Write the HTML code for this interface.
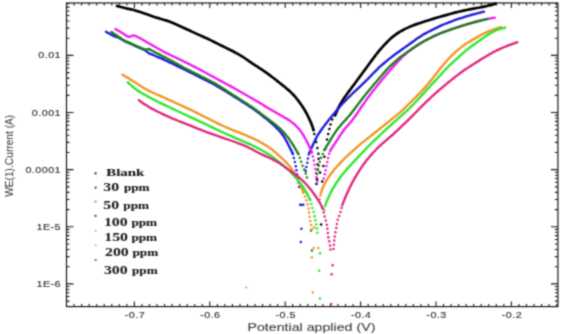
<!DOCTYPE html>
<html><head><meta charset="utf-8"><title>Tafel plot</title>
<style>html,body{margin:0;padding:0;background:#fff;}body{width:562px;height:334px;overflow:hidden;font-family:"Liberation Sans",sans-serif;}svg{display:block;}</style>
</head><body><svg width="562" height="334" viewBox="0 0 562 334"><defs><filter id="soft" x="0" y="0" width="562" height="334" filterUnits="userSpaceOnUse" color-interpolation-filters="sRGB"><feConvolveMatrix order="3" kernelMatrix="1 3 1 3 9 3 1 3 1" edgeMode="none"/></filter></defs><g filter="url(#soft)"><rect width="562" height="334" fill="#fff"/><rect x="66.5" y="3.0" width="491.4" height="303.6" fill="none" stroke="#1a1a1a" stroke-width="1.2"/><path d="M74.08 306.6v-2.5M74.08 3.0v2.5M81.62 306.6v-2.5M81.62 3.0v2.5M89.16 306.6v-2.5M89.16 3.0v2.5M96.70 306.6v-2.5M96.70 3.0v2.5M104.24 306.6v-2.5M104.24 3.0v2.5M111.78 306.6v-2.5M111.78 3.0v2.5M119.32 306.6v-2.5M119.32 3.0v2.5M126.86 306.6v-2.5M126.86 3.0v2.5M134.40 306.6v-5M134.40 3.0v5M141.94 306.6v-2.5M141.94 3.0v2.5M149.48 306.6v-2.5M149.48 3.0v2.5M157.02 306.6v-2.5M157.02 3.0v2.5M164.56 306.6v-2.5M164.56 3.0v2.5M172.10 306.6v-2.5M172.10 3.0v2.5M179.64 306.6v-2.5M179.64 3.0v2.5M187.18 306.6v-2.5M187.18 3.0v2.5M194.72 306.6v-2.5M194.72 3.0v2.5M202.26 306.6v-2.5M202.26 3.0v2.5M209.80 306.6v-5M209.80 3.0v5M217.34 306.6v-2.5M217.34 3.0v2.5M224.88 306.6v-2.5M224.88 3.0v2.5M232.42 306.6v-2.5M232.42 3.0v2.5M239.96 306.6v-2.5M239.96 3.0v2.5M247.50 306.6v-2.5M247.50 3.0v2.5M255.04 306.6v-2.5M255.04 3.0v2.5M262.58 306.6v-2.5M262.58 3.0v2.5M270.12 306.6v-2.5M270.12 3.0v2.5M277.66 306.6v-2.5M277.66 3.0v2.5M285.20 306.6v-5M285.20 3.0v5M292.74 306.6v-2.5M292.74 3.0v2.5M300.28 306.6v-2.5M300.28 3.0v2.5M307.82 306.6v-2.5M307.82 3.0v2.5M315.36 306.6v-2.5M315.36 3.0v2.5M322.90 306.6v-2.5M322.90 3.0v2.5M330.44 306.6v-2.5M330.44 3.0v2.5M337.98 306.6v-2.5M337.98 3.0v2.5M345.52 306.6v-2.5M345.52 3.0v2.5M353.06 306.6v-2.5M353.06 3.0v2.5M360.60 306.6v-5M360.60 3.0v5M368.14 306.6v-2.5M368.14 3.0v2.5M375.68 306.6v-2.5M375.68 3.0v2.5M383.22 306.6v-2.5M383.22 3.0v2.5M390.76 306.6v-2.5M390.76 3.0v2.5M398.30 306.6v-2.5M398.30 3.0v2.5M405.84 306.6v-2.5M405.84 3.0v2.5M413.38 306.6v-2.5M413.38 3.0v2.5M420.92 306.6v-2.5M420.92 3.0v2.5M428.46 306.6v-2.5M428.46 3.0v2.5M436.00 306.6v-5M436.00 3.0v5M443.54 306.6v-2.5M443.54 3.0v2.5M451.08 306.6v-2.5M451.08 3.0v2.5M458.62 306.6v-2.5M458.62 3.0v2.5M466.16 306.6v-2.5M466.16 3.0v2.5M473.70 306.6v-2.5M473.70 3.0v2.5M481.24 306.6v-2.5M481.24 3.0v2.5M488.78 306.6v-2.5M488.78 3.0v2.5M496.32 306.6v-2.5M496.32 3.0v2.5M503.86 306.6v-2.5M503.86 3.0v2.5M511.40 306.6v-5M511.40 3.0v5M518.94 306.6v-2.5M518.94 3.0v2.5M526.48 306.6v-2.5M526.48 3.0v2.5M534.02 306.6v-2.5M534.02 3.0v2.5M541.56 306.6v-2.5M541.56 3.0v2.5M549.10 306.6v-2.5M549.10 3.0v2.5M556.64 306.6v-2.5M556.64 3.0v2.5M66.5 301.10h3M557.9 301.10h-3M66.5 296.57h3M557.9 296.57h-3M66.5 292.75h3M557.9 292.75h-3M66.5 289.44h3M557.9 289.44h-3M66.5 286.51h3M557.9 286.51h-3M66.5 283.90h7M557.9 283.90h-7M66.5 266.70h3M557.9 266.70h-3M66.5 256.64h3M557.9 256.64h-3M66.5 249.51h3M557.9 249.51h-3M66.5 243.97h3M557.9 243.97h-3M66.5 239.45h3M557.9 239.45h-3M66.5 235.62h3M557.9 235.62h-3M66.5 232.31h3M557.9 232.31h-3M66.5 229.39h3M557.9 229.39h-3M66.5 226.78h7M557.9 226.78h-7M66.5 209.58h3M557.9 209.58h-3M66.5 199.52h3M557.9 199.52h-3M66.5 192.38h3M557.9 192.38h-3M66.5 186.85h3M557.9 186.85h-3M66.5 182.32h3M557.9 182.32h-3M66.5 178.50h3M557.9 178.50h-3M66.5 175.19h3M557.9 175.19h-3M66.5 172.26h3M557.9 172.26h-3M66.5 169.65h7M557.9 169.65h-7M66.5 152.45h3M557.9 152.45h-3M66.5 142.39h3M557.9 142.39h-3M66.5 135.26h3M557.9 135.26h-3M66.5 129.72h3M557.9 129.72h-3M66.5 125.20h3M557.9 125.20h-3M66.5 121.37h3M557.9 121.37h-3M66.5 118.06h3M557.9 118.06h-3M66.5 115.14h3M557.9 115.14h-3M66.5 112.53h7M557.9 112.53h-7M66.5 95.33h3M557.9 95.33h-3M66.5 85.27h3M557.9 85.27h-3M66.5 78.13h3M557.9 78.13h-3M66.5 72.60h3M557.9 72.60h-3M66.5 68.07h3M557.9 68.07h-3M66.5 64.25h3M557.9 64.25h-3M66.5 60.94h3M557.9 60.94h-3M66.5 58.01h3M557.9 58.01h-3M66.5 55.40h7M557.9 55.40h-7M66.5 38.20h3M557.9 38.20h-3M66.5 28.14h3M557.9 28.14h-3M66.5 21.01h3M557.9 21.01h-3M66.5 15.47h3M557.9 15.47h-3M66.5 10.95h3M557.9 10.95h-3M66.5 7.12h3M557.9 7.12h-3M66.5 3.81h3M557.9 3.81h-3" stroke="#1a1a1a" stroke-width="1.1" fill="none"/><path d="M117.00 6.00C117.48 6.13 118.94 6.52 119.91 6.78C120.88 7.03 121.85 7.29 122.82 7.53C123.79 7.77 124.76 8.01 125.74 8.24C126.71 8.46 127.69 8.68 128.66 8.90C129.63 9.12 130.61 9.33 131.58 9.56C132.55 9.79 133.52 10.03 134.49 10.28C135.46 10.54 136.42 10.81 137.38 11.09C138.34 11.38 139.29 11.68 140.25 11.98C141.20 12.29 142.15 12.61 143.10 12.93C144.05 13.26 145.00 13.59 145.94 13.93C146.89 14.26 147.83 14.60 148.78 14.94C149.72 15.28 150.66 15.62 151.61 15.96C152.55 16.30 153.50 16.63 154.45 16.95C155.40 17.28 156.35 17.59 157.30 17.89C158.26 18.19 159.22 18.47 160.18 18.75C161.14 19.03 162.10 19.29 163.06 19.56C164.02 19.83 164.98 20.09 165.93 20.39C166.88 20.68 167.83 20.99 168.76 21.33C169.70 21.67 170.62 22.04 171.55 22.42C172.47 22.80 173.38 23.21 174.30 23.61C175.21 24.01 176.13 24.43 177.04 24.83C177.96 25.24 178.87 25.65 179.79 26.06C180.71 26.47 181.62 26.87 182.54 27.28C183.45 27.70 184.36 28.11 185.27 28.54C186.18 28.96 187.09 29.39 188.00 29.81C188.90 30.24 189.81 30.67 190.72 31.10C191.63 31.53 192.53 31.95 193.44 32.37C194.36 32.79 195.27 33.21 196.18 33.63C197.10 34.04 198.01 34.45 198.93 34.86C199.84 35.27 200.76 35.68 201.68 36.09C202.59 36.50 203.51 36.91 204.42 37.32C205.33 37.74 206.25 38.16 207.16 38.58C208.07 39.00 208.97 39.43 209.88 39.87C210.78 40.30 211.68 40.74 212.58 41.18C213.48 41.62 214.38 42.07 215.28 42.52C216.18 42.97 217.08 43.42 217.97 43.87C218.87 44.32 219.77 44.77 220.66 45.22C221.56 45.66 222.46 46.11 223.36 46.56C224.25 47.01 225.15 47.46 226.05 47.91C226.95 48.35 227.85 48.80 228.75 49.24C229.65 49.69 230.55 50.14 231.44 50.58C232.34 51.03 233.24 51.48 234.13 51.94C235.02 52.39 235.92 52.85 236.80 53.32C237.68 53.80 238.55 54.28 239.42 54.79C240.28 55.29 241.13 55.81 241.98 56.35C242.82 56.89 243.65 57.44 244.48 58.01C245.31 58.57 246.13 59.15 246.95 59.72C247.77 60.29 248.60 60.86 249.42 61.43C250.25 61.99 251.08 62.56 251.92 63.11C252.75 63.67 253.59 64.21 254.43 64.76C255.27 65.31 256.12 65.85 256.96 66.40C257.80 66.95 258.64 67.49 259.48 68.05C260.31 68.60 261.15 69.16 261.98 69.72C262.81 70.28 263.63 70.85 264.46 71.42C265.28 72.00 266.10 72.58 266.92 73.16C267.73 73.74 268.55 74.33 269.35 74.93C270.16 75.52 270.97 76.12 271.77 76.73C272.56 77.33 273.36 77.94 274.15 78.56C274.94 79.17 275.73 79.80 276.52 80.42C277.31 81.04 278.09 81.66 278.88 82.29C279.66 82.91 280.45 83.54 281.23 84.17C282.01 84.79 282.80 85.42 283.58 86.05C284.36 86.68 285.14 87.31 285.91 87.95C286.69 88.58 287.46 89.22 288.21 89.88C288.97 90.53 289.72 91.19 290.45 91.88C291.17 92.56 291.89 93.26 292.58 93.98C293.27 94.70 293.95 95.44 294.61 96.19C295.27 96.94 295.91 97.71 296.54 98.48C297.18 99.26 297.80 100.04 298.41 100.84C299.02 101.63 299.63 102.43 300.22 103.24C300.80 104.05 301.39 104.86 301.95 105.69C302.51 106.52 303.05 107.36 303.58 108.21C304.11 109.06 304.61 109.92 305.11 110.79C305.60 111.66 306.07 112.54 306.54 113.43C307.01 114.32 307.47 115.21 307.92 116.10C308.36 117.00 308.81 117.90 309.23 118.81C309.66 119.71 310.08 120.62 310.47 121.54C310.86 122.46 311.24 123.38 311.59 124.32C311.94 125.25 312.27 126.20 312.59 127.14C312.90 128.09 313.35 129.52 313.50 130.00" fill="none" stroke="#000" stroke-width="2.7" stroke-linejoin="round" stroke-linecap="round"/><circle cx="313.5" cy="130.0" r="1.25" fill="#000"/><circle cx="314.3" cy="134.1" r="1.25" fill="#000"/><circle cx="316.2" cy="142" r="1.25" fill="#000"/><circle cx="317.4" cy="148" r="1.25" fill="#000"/><circle cx="318.4" cy="153.7" r="1.25" fill="#000"/><circle cx="318.6" cy="158.7" r="1.25" fill="#000"/><circle cx="317.7" cy="164.5" r="1.25" fill="#000"/><circle cx="317.7" cy="169.5" r="1.25" fill="#000"/><circle cx="317" cy="179.2" r="1.25" fill="#000"/><circle cx="316.5" cy="184" r="1.25" fill="#000"/><circle cx="321.1" cy="224.6" r="1.25" fill="#000"/><circle cx="322.2" cy="181.4" r="1.25" fill="#000"/><circle cx="320" cy="172.5" r="1.25" fill="#000"/><circle cx="323.4" cy="165.9" r="1.25" fill="#000"/><circle cx="324.4" cy="156.7" r="1.25" fill="#000"/><circle cx="325.2" cy="149" r="1.25" fill="#000"/><circle cx="327" cy="139.6" r="1.25" fill="#000"/><circle cx="328.2" cy="134" r="1.25" fill="#000"/><circle cx="329.4" cy="129" r="1.25" fill="#000"/><circle cx="330.5" cy="124.4" r="1.25" fill="#000"/><circle cx="332.2" cy="119.5" r="1.25" fill="#000"/><path d="M335.00 115.40C335.20 114.94 335.80 113.56 336.21 112.65C336.61 111.74 337.02 110.82 337.44 109.92C337.86 109.01 338.28 108.10 338.73 107.21C339.17 106.32 339.63 105.43 340.11 104.56C340.60 103.69 341.10 102.82 341.62 101.97C342.13 101.12 342.67 100.28 343.22 99.44C343.77 98.61 344.34 97.78 344.91 96.96C345.48 96.14 346.07 95.33 346.65 94.52C347.24 93.71 347.83 92.91 348.42 92.10C349.02 91.29 349.61 90.49 350.21 89.68C350.80 88.88 351.39 88.07 351.99 87.26C352.58 86.46 353.17 85.65 353.76 84.84C354.36 84.04 354.95 83.23 355.54 82.42C356.13 81.62 356.73 80.81 357.32 80.01C357.92 79.20 358.51 78.40 359.11 77.59C359.70 76.79 360.30 75.98 360.89 75.18C361.49 74.37 362.08 73.57 362.68 72.76C363.27 71.96 363.87 71.15 364.46 70.34C365.05 69.54 365.64 68.73 366.23 67.92C366.82 67.11 367.41 66.30 368.00 65.49C368.60 64.69 369.19 63.88 369.78 63.07C370.37 62.26 370.96 61.46 371.56 60.65C372.15 59.85 372.75 59.04 373.35 58.24C373.95 57.44 374.55 56.64 375.16 55.85C375.77 55.05 376.38 54.26 377.00 53.48C377.62 52.69 378.25 51.91 378.88 51.14C379.51 50.36 380.16 49.60 380.81 48.84C381.46 48.08 382.11 47.32 382.78 46.58C383.45 45.83 384.12 45.09 384.81 44.37C385.49 43.64 386.19 42.92 386.89 42.21C387.59 41.50 388.30 40.80 389.03 40.11C389.75 39.42 390.48 38.74 391.23 38.09C391.98 37.43 392.74 36.79 393.52 36.17C394.30 35.55 395.10 34.96 395.91 34.39C396.73 33.82 397.56 33.27 398.40 32.74C399.25 32.21 400.10 31.70 400.97 31.20C401.84 30.70 402.71 30.22 403.59 29.75C404.48 29.29 405.37 28.83 406.27 28.40C407.16 27.96 408.07 27.54 408.98 27.13C409.89 26.72 410.81 26.33 411.74 25.96C412.66 25.58 413.60 25.23 414.54 24.88C415.47 24.54 416.42 24.21 417.36 23.89C418.31 23.56 419.26 23.25 420.21 22.94C421.16 22.62 422.11 22.32 423.07 22.01C424.02 21.70 424.97 21.39 425.92 21.09C426.88 20.78 427.83 20.47 428.78 20.17C429.74 19.87 430.69 19.57 431.65 19.27C432.61 18.98 433.56 18.69 434.52 18.40C435.48 18.11 436.44 17.83 437.40 17.55C438.36 17.27 439.32 16.99 440.29 16.72C441.25 16.44 442.21 16.17 443.18 15.90C444.14 15.63 445.10 15.35 446.07 15.08C447.03 14.81 447.99 14.54 448.96 14.27C449.92 14.00 450.88 13.73 451.85 13.46C452.81 13.20 453.78 12.93 454.75 12.68C455.72 12.43 456.68 12.18 457.66 11.94C458.63 11.71 459.60 11.48 460.58 11.26C461.55 11.04 462.53 10.83 463.51 10.62C464.49 10.42 465.47 10.22 466.45 10.02C467.43 9.82 468.41 9.62 469.40 9.43C470.38 9.23 471.36 9.04 472.34 8.85C473.33 8.66 474.31 8.48 475.29 8.29C476.28 8.11 477.26 7.93 478.25 7.75C479.23 7.57 480.22 7.39 481.20 7.21C482.18 7.03 483.17 6.85 484.15 6.65C485.13 6.45 486.11 6.25 487.08 6.03C488.05 5.81 489.02 5.58 489.98 5.32C490.95 5.06 491.90 4.78 492.86 4.50C493.81 4.21 495.23 3.75 495.70 3.60" fill="none" stroke="#000" stroke-width="2.7" stroke-linejoin="round" stroke-linecap="round"/><path d="M106.00 31.70C106.43 31.95 107.73 32.71 108.60 33.22C109.47 33.72 110.32 34.26 111.20 34.74C112.08 35.22 112.95 35.70 113.88 36.08C114.80 36.46 115.81 36.64 116.74 37.00C117.68 37.36 118.58 37.78 119.47 38.23C120.36 38.69 121.21 39.24 122.09 39.72C122.97 40.20 123.85 40.69 124.75 41.14C125.64 41.58 126.57 41.97 127.49 42.38C128.40 42.80 129.31 43.21 130.23 43.63C131.14 44.04 132.06 44.46 132.97 44.87C133.88 45.29 134.80 45.70 135.71 46.11C136.63 46.53 137.54 46.94 138.46 47.35C139.38 47.76 140.29 48.17 141.21 48.58C142.12 48.99 143.07 49.35 143.96 49.81C144.84 50.27 145.69 50.78 146.51 51.34C147.34 51.90 148.03 52.67 148.89 53.17C149.75 53.67 150.73 53.96 151.66 54.36C152.58 54.75 153.50 55.15 154.42 55.54C155.35 55.94 156.27 56.34 157.19 56.73C158.11 57.13 159.04 57.52 159.96 57.92C160.88 58.32 161.79 58.73 162.70 59.15C163.62 59.57 164.52 60.01 165.43 60.44C166.33 60.87 167.24 61.30 168.15 61.72C169.06 62.15 169.96 62.58 170.87 63.01C171.78 63.44 172.69 63.87 173.59 64.30C174.50 64.73 175.41 65.16 176.31 65.59C177.22 66.02 178.12 66.45 179.03 66.89C179.93 67.32 180.84 67.76 181.74 68.20C182.64 68.64 183.54 69.09 184.44 69.53C185.34 69.98 186.24 70.42 187.14 70.87C188.03 71.32 188.93 71.77 189.83 72.22C190.73 72.66 191.62 73.11 192.52 73.56C193.42 74.01 194.32 74.46 195.22 74.91C196.11 75.36 197.01 75.81 197.91 76.25C198.81 76.70 199.70 77.15 200.60 77.60C201.50 78.05 202.40 78.50 203.29 78.95C204.19 79.40 205.09 79.85 205.99 80.30C206.88 80.75 207.78 81.19 208.68 81.65C209.57 82.10 210.47 82.56 211.36 83.02C212.25 83.48 213.14 83.95 214.02 84.42C214.90 84.90 215.78 85.38 216.65 85.88C217.52 86.37 218.39 86.88 219.25 87.39C220.11 87.90 220.97 88.42 221.83 88.94C222.68 89.46 223.54 89.99 224.39 90.52C225.24 91.05 226.10 91.58 226.95 92.11C227.80 92.64 228.65 93.17 229.50 93.71C230.35 94.24 231.20 94.77 232.05 95.31C232.90 95.84 233.75 96.38 234.60 96.92C235.45 97.45 236.29 97.99 237.14 98.52C237.99 99.06 238.84 99.60 239.69 100.13C240.53 100.67 241.38 101.21 242.23 101.75C243.08 102.29 243.92 102.82 244.77 103.37C245.61 103.91 246.46 104.45 247.30 105.00C248.14 105.55 248.97 106.10 249.81 106.66C250.64 107.22 251.47 107.79 252.29 108.36C253.11 108.93 253.93 109.51 254.75 110.10C255.56 110.68 256.37 111.27 257.18 111.86C257.99 112.46 258.80 113.05 259.60 113.65C260.41 114.25 261.21 114.85 262.01 115.46C262.80 116.07 263.60 116.69 264.38 117.31C265.17 117.93 265.95 118.57 266.72 119.20C267.50 119.84 268.27 120.48 269.03 121.13C269.79 121.78 270.55 122.44 271.31 123.10C272.06 123.76 272.82 124.42 273.56 125.09C274.30 125.77 275.04 126.44 275.77 127.14C276.49 127.83 277.21 128.53 277.90 129.25C278.59 129.97 279.28 130.70 279.93 131.45C280.58 132.20 281.22 132.97 281.82 133.76C282.42 134.55 283.00 135.36 283.55 136.19C284.10 137.02 284.62 137.87 285.12 138.74C285.63 139.60 286.10 140.48 286.58 141.36C287.05 142.24 287.51 143.13 287.97 144.02C288.43 144.92 288.87 145.81 289.32 146.71C289.77 147.61 290.22 148.51 290.67 149.41C291.12 150.30 291.64 151.35 292.01 152.10C292.38 152.85 292.75 153.60 292.90 153.90" fill="none" stroke="#1c1ce0" stroke-width="2.35" stroke-linejoin="round" stroke-linecap="round"/><circle cx="292.9" cy="153.9" r="1.25" fill="#1c1ce0"/><circle cx="293.9" cy="158.0" r="1.25" fill="#1c1ce0"/><circle cx="294.9" cy="162.0" r="1.25" fill="#1c1ce0"/><circle cx="295.8" cy="166.2" r="1.25" fill="#1c1ce0"/><circle cx="296.4" cy="170.3" r="1.25" fill="#1c1ce0"/><circle cx="297.0" cy="174.5" r="1.25" fill="#1c1ce0"/><circle cx="297.8" cy="178.6" r="1.25" fill="#1c1ce0"/><circle cx="298.6" cy="182.7" r="1.25" fill="#1c1ce0"/><circle cx="299.2" cy="186.9" r="1.25" fill="#1c1ce0"/><circle cx="301.4" cy="228.7" r="1.25" fill="#1c1ce0"/><circle cx="300.8" cy="242.1" r="1.25" fill="#1c1ce0"/><path d="M299 204.8h5.4" stroke="#1c1ce0" stroke-width="2.2"/><circle cx="305.7" cy="171.0" r="1.25" fill="#1c1ce0"/><circle cx="306.4" cy="166.9" r="1.25" fill="#1c1ce0"/><circle cx="307.3" cy="162.7" r="1.25" fill="#1c1ce0"/><circle cx="307.9" cy="158.6" r="1.25" fill="#1c1ce0"/><path d="M308.70 154.50C308.90 154.04 309.48 152.66 309.88 151.74C310.28 150.82 310.67 149.90 311.07 148.98C311.48 148.06 311.88 147.15 312.29 146.23C312.70 145.32 313.11 144.41 313.53 143.50C313.95 142.59 314.37 141.68 314.81 140.78C315.25 139.88 315.69 138.99 316.15 138.10C316.62 137.22 317.09 136.34 317.60 135.48C318.10 134.62 318.62 133.77 319.16 132.94C319.70 132.10 320.27 131.28 320.84 130.46C321.41 129.64 322.01 128.84 322.60 128.03C323.19 127.22 323.79 126.42 324.39 125.62C325.00 124.83 325.61 124.03 326.22 123.24C326.83 122.45 327.45 121.66 328.07 120.88C328.70 120.09 329.33 119.32 329.96 118.54C330.60 117.76 331.23 116.99 331.87 116.22C332.51 115.45 333.16 114.69 333.80 113.92C334.44 113.15 335.09 112.38 335.73 111.61C336.37 110.85 337.02 110.08 337.66 109.32C338.31 108.55 338.96 107.79 339.61 107.03C340.27 106.27 340.92 105.51 341.59 104.77C342.25 104.02 342.92 103.28 343.61 102.54C344.29 101.81 344.97 101.08 345.67 100.36C346.36 99.64 347.07 98.93 347.77 98.22C348.48 97.51 349.19 96.81 349.91 96.11C350.62 95.41 351.35 94.71 352.07 94.02C352.79 93.33 353.52 92.64 354.25 91.95C354.98 91.27 355.71 90.58 356.44 89.90C357.17 89.21 357.90 88.53 358.63 87.84C359.36 87.16 360.09 86.47 360.82 85.78C361.55 85.10 362.28 84.41 363.00 83.72C363.72 83.02 364.45 82.33 365.16 81.63C365.88 80.93 366.59 80.22 367.29 79.51C367.99 78.80 368.69 78.08 369.39 77.36C370.08 76.64 370.77 75.91 371.46 75.19C372.16 74.47 372.85 73.74 373.54 73.03C374.24 72.31 374.94 71.59 375.65 70.89C376.36 70.18 377.07 69.48 377.80 68.79C378.52 68.09 379.25 67.41 379.99 66.73C380.72 66.05 381.47 65.38 382.21 64.72C382.96 64.05 383.72 63.40 384.48 62.75C385.24 62.10 386.01 61.45 386.78 60.82C387.55 60.18 388.33 59.55 389.11 58.93C389.90 58.30 390.69 57.69 391.48 57.08C392.27 56.47 393.07 55.86 393.87 55.26C394.68 54.66 395.48 54.07 396.29 53.48C397.10 52.90 397.92 52.32 398.74 51.74C399.55 51.15 400.37 50.58 401.19 50.00C402.01 49.43 402.83 48.85 403.65 48.27C404.47 47.70 405.29 47.12 406.11 46.55C406.92 45.97 407.74 45.39 408.56 44.81C409.37 44.22 410.18 43.64 410.99 43.05C411.80 42.46 412.61 41.86 413.41 41.27C414.22 40.68 415.02 40.08 415.83 39.50C416.64 38.91 417.46 38.33 418.28 37.77C419.11 37.21 419.94 36.66 420.79 36.13C421.63 35.60 422.49 35.09 423.36 34.60C424.22 34.10 425.10 33.62 425.98 33.14C426.86 32.67 427.74 32.20 428.63 31.74C429.52 31.27 430.41 30.81 431.30 30.35C432.19 29.89 433.08 29.43 433.97 28.98C434.86 28.53 435.75 28.07 436.65 27.63C437.55 27.20 438.45 26.76 439.36 26.35C440.27 25.93 441.18 25.52 442.10 25.13C443.02 24.73 443.95 24.35 444.88 23.98C445.80 23.60 446.74 23.24 447.67 22.87C448.60 22.51 449.54 22.15 450.47 21.80C451.41 21.44 452.35 21.09 453.29 20.74C454.22 20.39 455.16 20.05 456.11 19.71C457.05 19.38 458.00 19.05 458.95 18.74C459.90 18.42 460.85 18.11 461.80 17.81C462.76 17.50 463.71 17.21 464.67 16.91C465.63 16.62 466.59 16.33 467.55 16.04C468.51 15.76 469.47 15.47 470.43 15.19C471.39 14.91 472.35 14.64 473.32 14.37C474.28 14.10 475.25 13.84 476.22 13.59C477.18 13.33 478.16 13.09 479.13 12.85C480.10 12.61 481.24 12.35 482.05 12.15C482.86 11.96 483.67 11.78 484.00 11.70" fill="none" stroke="#1c1ce0" stroke-width="2.35" stroke-linejoin="round" stroke-linecap="round"/><path d="M115.30 29.00C115.73 29.25 117.04 29.99 117.91 30.49C118.78 30.99 119.66 31.48 120.52 31.98C121.38 32.49 122.24 33.01 123.09 33.53C123.95 34.06 124.79 34.60 125.64 35.13C126.49 35.66 127.30 36.51 128.19 36.72C129.08 36.93 130.03 36.59 130.97 36.38C131.91 36.16 132.89 35.41 133.82 35.43C134.75 35.44 135.63 36.07 136.53 36.47C137.43 36.86 138.33 37.34 139.22 37.81C140.11 38.28 140.97 38.78 141.85 39.27C142.72 39.76 143.59 40.26 144.46 40.75C145.33 41.25 146.20 41.74 147.08 42.23C147.95 42.73 148.82 43.22 149.69 43.72C150.56 44.21 151.44 44.70 152.31 45.20C153.18 45.69 154.05 46.19 154.92 46.69C155.79 47.19 156.65 47.69 157.52 48.19C158.39 48.69 159.26 49.19 160.13 49.69C160.99 50.19 161.86 50.69 162.74 51.17C163.61 51.66 164.49 52.15 165.38 52.60C166.27 53.05 167.19 53.46 168.09 53.90C169.00 54.33 169.90 54.76 170.80 55.19C171.71 55.62 172.61 56.05 173.52 56.48C174.43 56.90 175.33 57.33 176.24 57.76C177.14 58.19 178.05 58.62 178.95 59.05C179.85 59.49 180.75 59.92 181.65 60.36C182.55 60.80 183.45 61.25 184.35 61.69C185.25 62.13 186.15 62.58 187.04 63.03C187.94 63.47 188.84 63.92 189.73 64.37C190.63 64.82 191.52 65.27 192.42 65.72C193.31 66.17 194.21 66.62 195.10 67.08C195.99 67.54 196.88 68.00 197.76 68.46C198.65 68.93 199.54 69.40 200.42 69.87C201.30 70.34 202.18 70.82 203.06 71.30C203.94 71.78 204.82 72.26 205.70 72.74C206.58 73.22 207.46 73.70 208.34 74.19C209.22 74.67 210.09 75.15 210.97 75.63C211.85 76.11 212.73 76.59 213.61 77.07C214.49 77.55 215.37 78.03 216.25 78.51C217.13 78.99 218.01 79.47 218.89 79.94C219.77 80.42 220.66 80.89 221.54 81.37C222.42 81.84 223.30 82.32 224.19 82.79C225.07 83.26 225.95 83.74 226.83 84.21C227.72 84.69 228.60 85.16 229.48 85.64C230.36 86.12 231.24 86.59 232.12 87.08C233.00 87.56 233.88 88.04 234.75 88.52C235.63 89.01 236.50 89.50 237.38 89.99C238.25 90.48 239.12 90.97 240.00 91.46C240.87 91.96 241.74 92.45 242.61 92.94C243.48 93.44 244.35 93.93 245.22 94.43C246.09 94.93 246.96 95.42 247.83 95.92C248.70 96.42 249.57 96.92 250.43 97.43C251.30 97.93 252.17 98.44 253.03 98.95C253.89 99.45 254.75 99.97 255.61 100.48C256.47 100.99 257.33 101.50 258.19 102.02C259.05 102.53 259.91 103.05 260.77 103.56C261.63 104.08 262.49 104.59 263.35 105.11C264.21 105.62 265.07 106.14 265.93 106.65C266.79 107.17 267.65 107.68 268.51 108.19C269.37 108.70 270.24 109.21 271.10 109.72C271.97 110.22 272.83 110.73 273.70 111.23C274.57 111.73 275.44 112.23 276.31 112.72C277.17 113.22 278.05 113.72 278.91 114.22C279.78 114.71 280.65 115.21 281.52 115.71C282.39 116.21 283.25 116.72 284.12 117.23C284.98 117.74 285.84 118.25 286.69 118.78C287.54 119.30 288.38 119.83 289.21 120.39C290.04 120.94 290.86 121.51 291.66 122.10C292.45 122.70 293.23 123.32 293.98 123.96C294.73 124.61 295.46 125.29 296.17 125.98C296.88 126.68 297.56 127.40 298.22 128.15C298.89 128.89 299.52 129.65 300.13 130.44C300.75 131.22 301.33 132.03 301.89 132.85C302.45 133.67 302.98 134.51 303.50 135.37C304.01 136.22 304.51 137.09 304.99 137.96C305.47 138.84 305.94 139.72 306.40 140.61C306.86 141.50 307.31 142.40 307.75 143.29C308.19 144.19 308.63 145.09 309.05 146.00C309.48 146.91 309.89 147.82 310.30 148.73C310.71 149.64 311.24 150.87 311.50 151.48C311.77 152.09 311.83 152.25 311.90 152.40" fill="none" stroke="#f01cf0" stroke-width="2.35" stroke-linejoin="round" stroke-linecap="round"/><circle cx="311.9" cy="152.4" r="1.25" fill="#f01cf0"/><circle cx="312.8" cy="156.5" r="1.25" fill="#f01cf0"/><circle cx="313.8" cy="160.6" r="1.25" fill="#f01cf0"/><circle cx="314.6" cy="164.7" r="1.25" fill="#f01cf0"/><circle cx="315.3" cy="168.9" r="1.25" fill="#f01cf0"/><circle cx="315.9" cy="173.0" r="1.25" fill="#f01cf0"/><circle cx="316.5" cy="177.2" r="1.25" fill="#f01cf0"/><circle cx="317.2" cy="181.3" r="1.25" fill="#f01cf0"/><circle cx="323.7" cy="178.4" r="1.25" fill="#f01cf0"/><circle cx="324.8" cy="174.3" r="1.25" fill="#f01cf0"/><circle cx="325.7" cy="170.2" r="1.25" fill="#f01cf0"/><circle cx="326.5" cy="166.1" r="1.25" fill="#f01cf0"/><circle cx="327.3" cy="162.0" r="1.25" fill="#f01cf0"/><circle cx="328.1" cy="157.9" r="1.25" fill="#f01cf0"/><circle cx="329.2" cy="153.8" r="1.25" fill="#f01cf0"/><path d="M330.00 151.00C330.27 150.58 331.07 149.30 331.61 148.46C332.15 147.61 332.69 146.77 333.24 145.93C333.79 145.09 334.34 144.26 334.90 143.42C335.45 142.58 336.01 141.75 336.57 140.92C337.12 140.08 337.67 139.24 338.22 138.40C338.77 137.57 339.32 136.72 339.87 135.89C340.42 135.05 340.97 134.21 341.54 133.39C342.10 132.56 342.68 131.75 343.27 130.94C343.87 130.14 344.48 129.35 345.11 128.58C345.74 127.80 346.39 127.04 347.04 126.28C347.70 125.52 348.36 124.78 349.02 124.02C349.67 123.26 350.33 122.51 350.97 121.74C351.61 120.97 352.24 120.19 352.85 119.40C353.47 118.61 354.06 117.81 354.64 116.99C355.23 116.18 355.79 115.35 356.36 114.52C356.92 113.70 357.48 112.86 358.03 112.03C358.59 111.19 359.14 110.35 359.70 109.52C360.26 108.69 360.82 107.85 361.38 107.02C361.94 106.19 362.51 105.36 363.08 104.54C363.65 103.71 364.23 102.89 364.81 102.07C365.39 101.25 365.98 100.44 366.56 99.63C367.15 98.81 367.75 98.01 368.35 97.20C368.94 96.39 369.54 95.59 370.14 94.79C370.75 93.98 371.35 93.18 371.95 92.38C372.56 91.58 373.17 90.78 373.78 89.99C374.39 89.19 375.01 88.40 375.63 87.61C376.25 86.82 376.87 86.04 377.50 85.26C378.13 84.47 378.77 83.70 379.41 82.92C380.04 82.15 380.68 81.37 381.32 80.60C381.96 79.83 382.61 79.06 383.25 78.29C383.90 77.52 384.54 76.75 385.19 75.98C385.84 75.22 386.48 74.45 387.14 73.69C387.79 72.92 388.44 72.16 389.10 71.41C389.76 70.65 390.42 69.89 391.08 69.14C391.75 68.39 392.41 67.63 393.08 66.88C393.74 66.13 394.41 65.38 395.08 64.63C395.75 63.88 396.41 63.14 397.09 62.39C397.76 61.65 398.44 60.91 399.13 60.19C399.82 59.46 400.51 58.74 401.22 58.04C401.94 57.33 402.66 56.65 403.40 55.97C404.14 55.30 404.90 54.65 405.67 54.01C406.43 53.36 407.21 52.74 408.00 52.11C408.79 51.49 409.58 50.88 410.38 50.28C411.18 49.68 411.99 49.08 412.80 48.49C413.62 47.91 414.44 47.33 415.26 46.76C416.09 46.19 416.92 45.63 417.76 45.09C418.60 44.54 419.45 44.01 420.30 43.49C421.16 42.97 422.03 42.46 422.90 41.96C423.76 41.46 424.64 40.98 425.52 40.50C426.40 40.02 427.29 39.54 428.17 39.07C429.06 38.61 429.95 38.14 430.85 37.69C431.74 37.23 432.64 36.79 433.54 36.35C434.44 35.92 435.35 35.49 436.27 35.08C437.18 34.67 438.10 34.27 439.03 33.89C439.95 33.50 440.88 33.13 441.82 32.77C442.75 32.41 443.69 32.06 444.64 31.71C445.58 31.37 446.52 31.03 447.47 30.70C448.41 30.36 449.36 30.03 450.31 29.70C451.26 29.37 452.20 29.04 453.15 28.71C454.10 28.39 455.05 28.07 456.01 27.75C456.96 27.43 457.91 27.12 458.87 26.81C459.82 26.51 460.78 26.21 461.74 25.91C462.70 25.61 463.66 25.32 464.62 25.02C465.58 24.73 466.54 24.44 467.50 24.16C468.46 23.87 469.42 23.58 470.39 23.30C471.35 23.02 472.31 22.74 473.28 22.47C474.25 22.20 475.21 21.94 476.18 21.68C477.15 21.42 478.12 21.18 479.10 20.93C480.07 20.69 481.05 20.46 482.02 20.23C483.00 20.00 483.98 19.78 484.96 19.57C485.94 19.35 486.92 19.14 487.90 18.94C488.89 18.74 489.87 18.54 490.86 18.35C491.84 18.16 493.16 17.91 493.81 17.79C494.47 17.66 494.64 17.63 494.80 17.60" fill="none" stroke="#f01cf0" stroke-width="2.35" stroke-linejoin="round" stroke-linecap="round"/><path d="M111.40 32.00C111.82 32.28 113.07 33.11 113.91 33.67C114.74 34.23 115.58 34.78 116.41 35.34C117.25 35.90 118.08 36.45 118.92 37.01C119.75 37.57 120.59 38.12 121.42 38.68C122.26 39.24 123.05 39.87 123.93 40.35C124.80 40.84 125.75 41.18 126.67 41.59C127.58 42.00 128.50 42.41 129.42 42.81C130.34 43.22 131.25 43.63 132.17 44.04C133.09 44.45 134.00 44.86 134.92 45.26C135.84 45.67 136.76 46.07 137.68 46.48C138.59 46.88 139.51 47.28 140.43 47.68C141.35 48.09 142.28 48.56 143.19 48.89C144.11 49.22 145.03 49.66 145.93 49.65C146.82 49.64 147.66 48.74 148.54 48.84C149.42 48.93 150.32 49.76 151.21 50.23C152.10 50.69 153.00 51.15 153.89 51.61C154.78 52.07 155.67 52.53 156.56 52.99C157.45 53.45 158.35 53.91 159.24 54.37C160.13 54.83 161.02 55.29 161.91 55.75C162.80 56.22 163.70 56.68 164.59 57.14C165.48 57.60 166.37 58.06 167.26 58.53C168.15 58.99 169.04 59.46 169.92 59.93C170.80 60.41 171.68 60.89 172.56 61.38C173.44 61.86 174.31 62.36 175.18 62.85C176.05 63.34 176.92 63.85 177.79 64.34C178.66 64.84 179.54 65.33 180.41 65.82C181.29 66.30 182.17 66.78 183.06 67.25C183.94 67.72 184.83 68.18 185.73 68.64C186.62 69.10 187.52 69.55 188.41 70.00C189.31 70.45 190.20 70.90 191.10 71.35C192.00 71.80 192.90 72.25 193.79 72.70C194.69 73.15 195.59 73.59 196.49 74.04C197.38 74.49 198.28 74.94 199.18 75.39C200.08 75.84 200.98 76.29 201.87 76.74C202.77 77.19 203.67 77.63 204.57 78.08C205.46 78.53 206.36 78.98 207.26 79.43C208.15 79.89 209.05 80.34 209.94 80.80C210.83 81.26 211.72 81.72 212.61 82.19C213.49 82.66 214.37 83.14 215.24 83.64C216.11 84.13 216.98 84.64 217.84 85.15C218.69 85.67 219.54 86.20 220.39 86.74C221.24 87.27 222.08 87.82 222.93 88.36C223.77 88.91 224.61 89.46 225.45 90.00C226.29 90.55 227.13 91.10 227.97 91.65C228.81 92.19 229.66 92.74 230.50 93.28C231.34 93.83 232.19 94.37 233.03 94.91C233.88 95.45 234.73 95.99 235.57 96.53C236.42 97.06 237.27 97.60 238.12 98.14C238.96 98.68 239.81 99.21 240.66 99.75C241.51 100.29 242.35 100.83 243.20 101.36C244.05 101.90 244.89 102.44 245.74 102.99C246.58 103.53 247.42 104.08 248.26 104.63C249.10 105.18 249.93 105.74 250.76 106.30C251.59 106.87 252.41 107.44 253.23 108.02C254.05 108.60 254.87 109.18 255.68 109.77C256.49 110.36 257.30 110.95 258.11 111.54C258.92 112.13 259.73 112.73 260.54 113.33C261.34 113.92 262.15 114.52 262.96 115.12C263.76 115.72 264.56 116.32 265.37 116.92C266.17 117.53 266.97 118.13 267.77 118.74C268.57 119.35 269.36 119.95 270.16 120.56C270.96 121.17 271.76 121.78 272.55 122.40C273.34 123.01 274.13 123.63 274.91 124.26C275.70 124.88 276.48 125.51 277.24 126.16C278.00 126.80 278.76 127.46 279.49 128.13C280.23 128.81 280.95 129.50 281.66 130.21C282.36 130.92 283.05 131.65 283.72 132.38C284.40 133.12 285.06 133.87 285.70 134.64C286.35 135.40 286.98 136.18 287.59 136.97C288.20 137.76 288.79 138.57 289.37 139.38C289.95 140.20 290.52 141.03 291.07 141.86C291.62 142.70 292.16 143.55 292.69 144.40C293.22 145.25 293.74 146.11 294.26 146.97C294.77 147.83 295.28 148.69 295.79 149.56C296.29 150.42 296.88 151.44 297.30 152.16C297.72 152.89 298.13 153.61 298.30 153.90" fill="none" stroke="#1e7e1e" stroke-width="2.35" stroke-linejoin="round" stroke-linecap="round"/><circle cx="298.3" cy="153.9" r="1.25" fill="#1e7e1e"/><circle cx="299.8" cy="157.8" r="1.25" fill="#1e7e1e"/><circle cx="301.2" cy="161.8" r="1.25" fill="#1e7e1e"/><circle cx="302.7" cy="165.7" r="1.25" fill="#1e7e1e"/><circle cx="304.2" cy="169.6" r="1.25" fill="#1e7e1e"/><circle cx="305.7" cy="173.6" r="1.25" fill="#1e7e1e"/><circle cx="306.9" cy="177.6" r="1.25" fill="#1e7e1e"/><circle cx="311" cy="230.5" r="1.25" fill="#1e7e1e"/><circle cx="311.9" cy="250.5" r="1.25" fill="#1e7e1e"/><circle cx="317.0" cy="174.0" r="1.25" fill="#1e7e1e"/><circle cx="318.0" cy="169.9" r="1.25" fill="#1e7e1e"/><circle cx="318.9" cy="165.8" r="1.25" fill="#1e7e1e"/><circle cx="319.7" cy="161.7" r="1.25" fill="#1e7e1e"/><circle cx="321.1" cy="157.8" r="1.25" fill="#1e7e1e"/><circle cx="322.8" cy="153.9" r="1.25" fill="#1e7e1e"/><circle cx="324.4" cy="150.0" r="1.25" fill="#1e7e1e"/><path d="M324.40 150.00C324.66 149.57 325.42 148.28 325.94 147.42C326.45 146.56 326.97 145.70 327.48 144.84C328.00 143.98 328.52 143.12 329.04 142.27C329.55 141.41 330.07 140.55 330.58 139.69C331.10 138.83 331.61 137.97 332.14 137.12C332.66 136.26 333.19 135.41 333.73 134.57C334.27 133.73 334.83 132.89 335.40 132.07C335.97 131.25 336.56 130.44 337.16 129.64C337.76 128.84 338.37 128.05 339.00 127.27C339.63 126.49 340.27 125.72 340.92 124.96C341.57 124.20 342.24 123.45 342.91 122.70C343.58 121.96 344.26 121.22 344.94 120.48C345.61 119.74 346.30 119.01 346.97 118.27C347.64 117.53 348.31 116.78 348.97 116.03C349.62 115.27 350.26 114.50 350.89 113.72C351.52 112.94 352.13 112.15 352.74 111.36C353.35 110.56 353.95 109.76 354.55 108.95C355.15 108.15 355.74 107.34 356.34 106.54C356.94 105.73 357.54 104.93 358.15 104.13C358.75 103.33 359.36 102.53 359.97 101.73C360.58 100.94 361.19 100.14 361.81 99.35C362.42 98.56 363.04 97.76 363.66 96.97C364.27 96.18 364.89 95.40 365.52 94.61C366.14 93.83 366.77 93.04 367.40 92.27C368.04 91.49 368.67 90.71 369.31 89.94C369.96 89.17 370.60 88.40 371.25 87.64C371.90 86.87 372.55 86.11 373.20 85.35C373.85 84.58 374.51 83.82 375.16 83.06C375.81 82.30 376.46 81.53 377.11 80.77C377.76 80.00 378.41 79.24 379.06 78.48C379.71 77.71 380.36 76.94 381.01 76.18C381.66 75.41 382.31 74.65 382.96 73.89C383.62 73.13 384.27 72.37 384.94 71.62C385.60 70.87 386.27 70.12 386.95 69.39C387.63 68.65 388.32 67.92 389.02 67.21C389.72 66.49 390.43 65.78 391.15 65.08C391.87 64.39 392.60 63.70 393.34 63.03C394.08 62.35 394.83 61.69 395.59 61.04C396.35 60.39 397.12 59.75 397.90 59.12C398.68 58.49 399.47 57.87 400.26 57.25C401.05 56.64 401.85 56.03 402.65 55.43C403.46 54.83 404.26 54.23 405.08 53.65C405.89 53.06 406.71 52.47 407.52 51.90C408.34 51.32 409.17 50.74 409.99 50.17C410.82 49.60 411.64 49.03 412.47 48.47C413.30 47.91 414.13 47.34 414.97 46.79C415.81 46.23 416.64 45.68 417.49 45.14C418.33 44.60 419.18 44.06 420.03 43.53C420.88 43.01 421.74 42.49 422.61 41.98C423.47 41.48 424.35 40.99 425.22 40.50C426.10 40.02 426.99 39.55 427.88 39.09C428.77 38.62 429.66 38.17 430.56 37.73C431.46 37.28 432.36 36.85 433.27 36.42C434.18 35.99 435.09 35.57 436.00 35.17C436.92 34.76 437.84 34.37 438.77 33.98C439.69 33.60 440.63 33.23 441.56 32.87C442.49 32.51 443.43 32.16 444.38 31.81C445.32 31.46 446.26 31.13 447.21 30.79C448.15 30.45 449.10 30.12 450.05 29.79C450.99 29.46 451.94 29.13 452.89 28.81C453.84 28.48 454.79 28.16 455.74 27.84C456.69 27.52 457.64 27.21 458.60 26.90C459.55 26.59 460.51 26.29 461.47 25.99C462.43 25.69 463.39 25.40 464.34 25.11C465.30 24.81 466.27 24.53 467.23 24.24C468.19 23.95 469.15 23.66 470.11 23.38C471.08 23.10 472.04 22.82 473.00 22.55C473.97 22.28 474.94 22.01 475.91 21.75C476.87 21.50 477.85 21.25 478.82 21.00C479.79 20.75 480.77 20.52 481.74 20.28C482.72 20.05 483.69 19.82 484.67 19.59C485.65 19.36 487.11 19.01 487.60 18.90" fill="none" stroke="#1e7e1e" stroke-width="2.35" stroke-linejoin="round" stroke-linecap="round"/><path d="M122.50 74.70C122.93 74.96 124.21 75.75 125.06 76.28C125.92 76.80 126.78 77.32 127.63 77.84C128.49 78.36 129.35 78.87 130.21 79.39C131.07 79.91 131.93 80.42 132.79 80.95C133.64 81.47 134.50 82.00 135.35 82.53C136.20 83.07 137.04 83.61 137.89 84.15C138.73 84.69 139.57 85.24 140.41 85.78C141.26 86.32 142.10 86.87 142.95 87.39C143.80 87.92 144.66 88.44 145.52 88.94C146.39 89.44 147.26 89.93 148.15 90.39C149.03 90.86 149.93 91.31 150.83 91.75C151.73 92.18 152.64 92.60 153.56 93.02C154.47 93.43 155.39 93.83 156.31 94.23C157.22 94.64 158.15 95.03 159.06 95.44C159.98 95.84 160.90 96.24 161.82 96.65C162.74 97.06 163.65 97.47 164.56 97.89C165.48 98.30 166.39 98.72 167.30 99.14C168.21 99.56 169.13 99.97 170.04 100.39C170.95 100.81 171.87 101.22 172.78 101.64C173.69 102.05 174.61 102.47 175.52 102.88C176.44 103.29 177.35 103.71 178.27 104.12C179.18 104.53 180.10 104.95 181.01 105.36C181.92 105.77 182.84 106.19 183.75 106.61C184.66 107.03 185.57 107.45 186.48 107.87C187.39 108.30 188.30 108.73 189.20 109.16C190.11 109.60 191.01 110.04 191.91 110.48C192.81 110.92 193.71 111.37 194.61 111.81C195.51 112.26 196.41 112.71 197.30 113.15C198.20 113.60 199.10 114.05 200.00 114.50C200.89 114.95 201.79 115.40 202.69 115.85C203.59 116.30 204.48 116.75 205.38 117.20C206.28 117.64 207.18 118.09 208.07 118.55C208.97 119.00 209.87 119.45 210.76 119.90C211.66 120.35 212.56 120.80 213.45 121.25C214.35 121.70 215.25 122.15 216.15 122.59C217.05 123.04 217.94 123.49 218.85 123.93C219.75 124.37 220.65 124.81 221.56 125.23C222.46 125.66 223.38 126.08 224.29 126.49C225.21 126.90 226.13 127.30 227.05 127.69C227.97 128.08 228.90 128.47 229.83 128.85C230.75 129.23 231.68 129.61 232.62 129.98C233.55 130.36 234.48 130.73 235.41 131.10C236.34 131.48 237.27 131.85 238.20 132.23C239.13 132.60 240.07 132.97 241.00 133.35C241.93 133.73 242.86 134.10 243.79 134.48C244.71 134.86 245.64 135.24 246.57 135.63C247.50 136.02 248.42 136.40 249.34 136.80C250.27 137.19 251.19 137.59 252.10 138.00C253.02 138.41 253.93 138.82 254.84 139.24C255.75 139.67 256.65 140.10 257.55 140.55C258.44 141.00 259.33 141.46 260.21 141.94C261.09 142.41 261.96 142.91 262.83 143.42C263.69 143.92 264.54 144.45 265.39 144.98C266.24 145.51 267.08 146.06 267.91 146.61C268.74 147.17 269.57 147.74 270.38 148.33C271.18 148.92 271.98 149.52 272.76 150.14C273.55 150.76 274.32 151.40 275.08 152.05C275.84 152.70 276.59 153.37 277.34 154.03C278.09 154.70 278.83 155.38 279.57 156.05C280.31 156.73 281.04 157.41 281.77 158.10C282.51 158.79 283.24 159.48 283.95 160.18C284.67 160.88 285.38 161.58 286.08 162.30C286.77 163.02 287.46 163.74 288.11 164.49C288.77 165.24 289.41 166.01 290.02 166.79C290.64 167.58 291.22 168.39 291.79 169.21C292.36 170.03 292.90 170.87 293.43 171.71C293.96 172.56 294.47 173.42 294.97 174.29C295.47 175.16 295.96 176.04 296.43 176.92C296.90 177.80 297.36 178.69 297.81 179.59C298.26 180.49 298.69 181.39 299.11 182.30C299.53 183.21 299.93 184.13 300.32 185.05C300.71 185.97 301.09 186.90 301.47 187.83C301.84 188.76 302.27 189.85 302.57 190.63C302.88 191.41 303.18 192.19 303.30 192.50" fill="none" stroke="#f49326" stroke-width="2.35" stroke-linejoin="round" stroke-linecap="round"/><circle cx="303.3" cy="192.5" r="1.25" fill="#f49326"/><circle cx="304.9" cy="196.4" r="1.25" fill="#f49326"/><circle cx="306.4" cy="200.3" r="1.25" fill="#f49326"/><circle cx="307.6" cy="204.3" r="1.25" fill="#f49326"/><circle cx="308.6" cy="208.4" r="1.25" fill="#f49326"/><circle cx="309.1" cy="212.6" r="1.25" fill="#f49326"/><circle cx="309.6" cy="216.7" r="1.25" fill="#f49326"/><circle cx="310.4" cy="220.9" r="1.25" fill="#f49326"/><circle cx="311.1" cy="225.0" r="1.25" fill="#f49326"/><circle cx="311.7" cy="229.2" r="1.25" fill="#f49326"/><circle cx="313.7" cy="248" r="1.25" fill="#f49326"/><circle cx="311.9" cy="257.5" r="1.25" fill="#f49326"/><circle cx="312.8" cy="292.6" r="1.25" fill="#f49326"/><circle cx="318.2" cy="248" r="1.25" fill="#f49326"/><circle cx="314" cy="227.5" r="1.25" fill="#f49326"/><circle cx="319.7" cy="199.5" r="1.25" fill="#f49326"/><circle cx="320.4" cy="195.4" r="1.25" fill="#f49326"/><path d="M320.70 193.40C320.87 192.93 321.35 191.51 321.70 190.57C322.04 189.64 322.40 188.70 322.78 187.78C323.16 186.86 323.57 185.95 324.00 185.05C324.43 184.15 324.89 183.27 325.37 182.39C325.86 181.52 326.37 180.66 326.89 179.81C327.42 178.96 327.97 178.12 328.53 177.30C329.09 176.47 329.67 175.65 330.26 174.84C330.85 174.03 331.45 173.24 332.06 172.44C332.68 171.65 333.30 170.87 333.94 170.10C334.57 169.32 335.22 168.56 335.87 167.80C336.52 167.04 337.19 166.28 337.86 165.54C338.53 164.80 339.20 164.06 339.89 163.33C340.57 162.60 341.27 161.87 341.97 161.16C342.67 160.44 343.37 159.73 344.08 159.02C344.80 158.32 345.51 157.62 346.23 156.92C346.96 156.23 347.68 155.54 348.42 154.85C349.15 154.17 349.88 153.49 350.62 152.81C351.36 152.13 352.11 151.46 352.85 150.79C353.60 150.12 354.35 149.45 355.10 148.79C355.85 148.13 356.60 147.47 357.36 146.81C358.12 146.16 358.88 145.51 359.65 144.86C360.42 144.22 361.19 143.58 361.97 142.95C362.75 142.31 363.53 141.69 364.31 141.06C365.10 140.44 365.88 139.82 366.67 139.20C367.46 138.57 368.24 137.96 369.03 137.33C369.82 136.71 370.60 136.09 371.39 135.47C372.18 134.85 372.96 134.22 373.75 133.60C374.53 132.97 375.31 132.35 376.10 131.72C376.88 131.10 377.66 130.47 378.45 129.84C379.23 129.22 380.01 128.59 380.79 127.96C381.58 127.34 382.36 126.71 383.14 126.08C383.93 125.46 384.71 124.83 385.49 124.21C386.27 123.58 387.06 122.95 387.84 122.33C388.62 121.70 389.40 121.07 390.19 120.44C390.97 119.81 391.75 119.19 392.53 118.56C393.31 117.93 394.09 117.30 394.87 116.66C395.64 116.03 396.42 115.40 397.19 114.76C397.96 114.11 398.73 113.47 399.48 112.81C400.24 112.16 400.99 111.50 401.74 110.83C402.48 110.16 403.21 109.47 403.94 108.79C404.67 108.10 405.39 107.40 406.11 106.71C406.83 106.01 407.54 105.30 408.26 104.60C408.97 103.90 409.68 103.19 410.39 102.48C411.11 101.78 411.82 101.07 412.53 100.36C413.24 99.66 413.95 98.95 414.66 98.24C415.36 97.53 416.07 96.82 416.78 96.11C417.49 95.40 418.19 94.68 418.89 93.97C419.59 93.25 420.29 92.53 420.98 91.80C421.67 91.08 422.35 90.35 423.03 89.61C423.71 88.87 424.38 88.13 425.05 87.38C425.71 86.63 426.37 85.88 427.03 85.12C427.68 84.36 428.34 83.60 428.98 82.83C429.62 82.06 430.26 81.29 430.89 80.51C431.52 79.73 432.15 78.95 432.77 78.16C433.38 77.37 434.00 76.58 434.61 75.78C435.22 74.99 435.82 74.19 436.44 73.40C437.05 72.60 437.66 71.81 438.27 71.02C438.89 70.23 439.51 69.44 440.13 68.65C440.75 67.87 441.38 67.08 442.01 66.31C442.65 65.53 443.29 64.76 443.93 63.99C444.58 63.23 445.23 62.47 445.90 61.72C446.56 60.97 447.23 60.22 447.91 59.49C448.59 58.75 449.28 58.02 449.97 57.31C450.67 56.59 451.38 55.87 452.09 55.17C452.81 54.47 453.53 53.78 454.27 53.10C455.00 52.43 455.75 51.76 456.50 51.10C457.26 50.44 458.02 49.80 458.80 49.17C459.57 48.54 460.36 47.92 461.16 47.31C461.95 46.71 462.76 46.11 463.58 45.53C464.39 44.95 465.22 44.39 466.05 43.83C466.89 43.28 467.73 42.74 468.58 42.21C469.42 41.67 470.28 41.15 471.14 40.63C472.00 40.12 472.86 39.61 473.73 39.11C474.59 38.60 475.46 38.10 476.34 37.61C477.21 37.12 478.09 36.63 478.97 36.16C479.85 35.68 480.73 35.21 481.62 34.74C482.51 34.28 483.40 33.82 484.30 33.38C485.19 32.93 486.09 32.49 487.00 32.07C487.91 31.65 488.82 31.25 489.74 30.86C490.66 30.48 491.59 30.11 492.53 29.76C493.47 29.42 494.41 29.09 495.36 28.78C496.31 28.46 497.27 28.17 498.22 27.87C499.18 27.57 500.62 27.15 501.10 27.00" fill="none" stroke="#f49326" stroke-width="2.35" stroke-linejoin="round" stroke-linecap="round"/><path d="M127.70 82.20C128.07 82.54 129.15 83.58 129.89 84.25C130.63 84.93 131.37 85.60 132.13 86.25C132.89 86.90 133.66 87.53 134.45 88.14C135.24 88.75 136.04 89.34 136.86 89.92C137.68 90.49 138.51 91.04 139.36 91.57C140.20 92.11 141.06 92.63 141.92 93.14C142.78 93.65 143.65 94.15 144.52 94.64C145.39 95.13 146.27 95.62 147.15 96.10C148.02 96.59 148.91 97.07 149.79 97.54C150.67 98.02 151.56 98.49 152.44 98.95C153.33 99.42 154.22 99.88 155.11 100.34C156.01 100.79 156.90 101.24 157.80 101.69C158.70 102.14 159.60 102.58 160.50 103.01C161.40 103.45 162.30 103.88 163.21 104.32C164.11 104.75 165.02 105.17 165.93 105.60C166.84 106.03 167.74 106.45 168.65 106.88C169.56 107.30 170.47 107.73 171.37 108.16C172.28 108.58 173.19 109.01 174.10 109.44C175.00 109.86 175.91 110.29 176.82 110.72C177.72 111.15 178.63 111.57 179.54 112.00C180.44 112.43 181.35 112.86 182.26 113.29C183.16 113.71 184.07 114.14 184.98 114.57C185.89 114.99 186.79 115.42 187.70 115.84C188.61 116.26 189.52 116.69 190.43 117.11C191.34 117.53 192.25 117.95 193.16 118.37C194.07 118.80 194.98 119.22 195.89 119.64C196.80 120.06 197.71 120.48 198.62 120.90C199.53 121.32 200.44 121.74 201.35 122.16C202.26 122.59 203.16 123.01 204.07 123.44C204.98 123.86 205.89 124.29 206.79 124.72C207.70 125.15 208.60 125.58 209.50 126.02C210.41 126.45 211.31 126.89 212.21 127.32C213.12 127.76 214.02 128.20 214.92 128.63C215.82 129.07 216.72 129.51 217.63 129.94C218.53 130.38 219.43 130.81 220.34 131.24C221.25 131.67 222.15 132.10 223.06 132.52C223.97 132.94 224.88 133.36 225.80 133.77C226.71 134.18 227.63 134.59 228.54 134.99C229.46 135.40 230.38 135.80 231.30 136.20C232.22 136.60 233.14 137.00 234.06 137.40C234.98 137.80 235.90 138.20 236.82 138.59C237.74 138.99 238.66 139.39 239.58 139.78C240.50 140.18 241.42 140.57 242.34 140.97C243.26 141.37 244.19 141.76 245.11 142.16C246.02 142.56 246.94 142.96 247.86 143.37C248.78 143.77 249.69 144.18 250.60 144.60C251.51 145.02 252.42 145.45 253.32 145.88C254.22 146.32 255.12 146.76 256.02 147.21C256.91 147.66 257.80 148.12 258.69 148.59C259.57 149.06 260.45 149.54 261.33 150.02C262.20 150.51 263.07 151.01 263.93 151.52C264.80 152.02 265.66 152.53 266.51 153.06C267.37 153.58 268.22 154.11 269.06 154.66C269.90 155.20 270.73 155.75 271.55 156.32C272.37 156.89 273.18 157.48 273.99 158.07C274.79 158.67 275.59 159.28 276.38 159.89C277.17 160.50 277.95 161.13 278.73 161.76C279.52 162.38 280.30 163.01 281.07 163.65C281.85 164.28 282.62 164.92 283.39 165.56C284.16 166.21 284.92 166.85 285.68 167.51C286.44 168.16 287.19 168.82 287.93 169.50C288.67 170.17 289.40 170.86 290.11 171.56C290.82 172.26 291.52 172.97 292.21 173.70C292.90 174.42 293.57 175.16 294.23 175.91C294.90 176.66 295.55 177.42 296.20 178.18C296.84 178.95 297.48 179.72 298.11 180.50C298.74 181.28 299.36 182.07 299.96 182.86C300.57 183.66 301.17 184.46 301.75 185.28C302.34 186.09 302.91 186.91 303.46 187.74C304.02 188.58 304.56 189.42 305.08 190.27C305.60 191.12 306.10 191.99 306.59 192.86C307.08 193.73 307.55 194.62 308.01 195.50C308.47 196.39 308.97 197.44 309.34 198.19C309.70 198.94 310.06 199.70 310.20 200.00" fill="none" stroke="#2ee62e" stroke-width="2.35" stroke-linejoin="round" stroke-linecap="round"/><circle cx="310.2" cy="200.0" r="1.25" fill="#2ee62e"/><circle cx="311.4" cy="204.0" r="1.25" fill="#2ee62e"/><circle cx="312.4" cy="208.1" r="1.25" fill="#2ee62e"/><circle cx="313.6" cy="212.1" r="1.25" fill="#2ee62e"/><circle cx="314.5" cy="216.2" r="1.25" fill="#2ee62e"/><circle cx="315.4" cy="220.3" r="1.25" fill="#2ee62e"/><circle cx="316.2" cy="224.4" r="1.25" fill="#2ee62e"/><circle cx="317.0" cy="228.6" r="1.25" fill="#2ee62e"/><circle cx="317.3" cy="232.8" r="1.25" fill="#2ee62e"/><circle cx="320" cy="253.2" r="1.25" fill="#2ee62e"/><circle cx="319.1" cy="270.7" r="1.25" fill="#2ee62e"/><circle cx="320" cy="298.5" r="1.25" fill="#2ee62e"/><circle cx="324.2" cy="210.0" r="1.25" fill="#2ee62e"/><circle cx="325.2" cy="205.9" r="1.25" fill="#2ee62e"/><path d="M325.70 204.00C325.89 203.54 326.46 202.15 326.85 201.23C327.24 200.30 327.63 199.38 328.04 198.47C328.44 197.55 328.85 196.64 329.28 195.73C329.70 194.83 330.14 193.93 330.59 193.04C331.04 192.14 331.51 191.26 331.98 190.38C332.46 189.50 332.95 188.63 333.45 187.76C333.95 186.89 334.46 186.03 334.98 185.18C335.51 184.33 336.04 183.48 336.58 182.64C337.13 181.80 337.68 180.97 338.25 180.14C338.81 179.32 339.39 178.50 339.98 177.69C340.57 176.88 341.17 176.08 341.78 175.29C342.39 174.50 343.02 173.72 343.65 172.95C344.29 172.17 344.93 171.41 345.59 170.65C346.24 169.89 346.90 169.14 347.57 168.39C348.23 167.64 348.91 166.90 349.58 166.16C350.26 165.43 350.94 164.69 351.62 163.96C352.30 163.22 352.99 162.49 353.67 161.77C354.36 161.04 355.05 160.31 355.74 159.58C356.43 158.85 357.11 158.13 357.80 157.40C358.49 156.67 359.18 155.94 359.87 155.21C360.55 154.49 361.24 153.76 361.93 153.03C362.61 152.30 363.30 151.57 363.99 150.84C364.67 150.11 365.36 149.38 366.05 148.65C366.74 147.93 367.43 147.20 368.13 146.48C368.83 145.77 369.53 145.05 370.23 144.34C370.94 143.63 371.65 142.93 372.37 142.23C373.09 141.53 373.81 140.84 374.54 140.15C375.26 139.46 375.99 138.77 376.72 138.08C377.45 137.40 378.18 136.72 378.91 136.03C379.65 135.35 380.39 134.67 381.12 134.00C381.86 133.32 382.60 132.65 383.35 131.97C384.09 131.30 384.83 130.63 385.58 129.96C386.32 129.29 387.06 128.62 387.81 127.95C388.55 127.28 389.30 126.61 390.04 125.94C390.79 125.27 391.53 124.60 392.27 123.92C393.01 123.25 393.75 122.58 394.49 121.90C395.24 121.23 395.98 120.55 396.72 119.88C397.46 119.21 398.20 118.53 398.94 117.86C399.68 117.18 400.42 116.51 401.17 115.84C401.91 115.17 402.65 114.50 403.39 113.82C404.14 113.15 404.88 112.48 405.62 111.81C406.37 111.14 407.11 110.47 407.84 109.79C408.58 109.11 409.31 108.43 410.03 107.73C410.76 107.04 411.47 106.34 412.18 105.64C412.89 104.93 413.59 104.21 414.28 103.49C414.97 102.77 415.66 102.04 416.34 101.31C417.02 100.57 417.70 99.83 418.38 99.10C419.05 98.36 419.73 97.62 420.40 96.88C421.08 96.14 421.75 95.39 422.42 94.65C423.09 93.91 423.76 93.17 424.44 92.42C425.11 91.68 425.78 90.93 426.45 90.19C427.12 89.45 427.79 88.70 428.46 87.96C429.14 87.22 429.81 86.48 430.49 85.75C431.17 85.01 431.85 84.28 432.54 83.55C433.23 82.82 433.92 82.10 434.61 81.37C435.30 80.65 435.99 79.93 436.68 79.20C437.37 78.47 438.05 77.74 438.73 77.00C439.40 76.27 440.07 75.52 440.74 74.78C441.41 74.03 442.07 73.28 442.73 72.53C443.40 71.79 444.07 71.04 444.75 70.31C445.43 69.58 446.11 68.85 446.81 68.13C447.51 67.42 448.21 66.71 448.93 66.01C449.64 65.31 450.36 64.61 451.09 63.93C451.82 63.24 452.55 62.56 453.29 61.88C454.02 61.20 454.76 60.52 455.51 59.85C456.25 59.18 456.99 58.51 457.74 57.84C458.48 57.17 459.23 56.50 459.98 55.83C460.72 55.17 461.47 54.50 462.22 53.84C462.98 53.18 463.73 52.52 464.49 51.88C465.26 51.23 466.02 50.59 466.80 49.96C467.58 49.33 468.37 48.72 469.16 48.11C469.96 47.50 470.76 46.90 471.57 46.31C472.37 45.72 473.19 45.14 474.00 44.55C474.81 43.97 475.63 43.39 476.45 42.81C477.26 42.23 478.08 41.65 478.90 41.07C479.71 40.48 480.53 39.90 481.34 39.32C482.16 38.74 482.98 38.16 483.80 37.59C484.62 37.02 485.44 36.44 486.26 35.88C487.09 35.32 487.92 34.77 488.77 34.24C489.61 33.71 490.46 33.19 491.33 32.71C492.20 32.22 493.08 31.76 493.98 31.34C494.88 30.91 495.79 30.52 496.72 30.16C497.64 29.80 498.58 29.48 499.53 29.17C500.48 28.87 501.44 28.61 502.40 28.34C503.36 28.08 504.82 27.72 505.30 27.60" fill="none" stroke="#2ee62e" stroke-width="2.35" stroke-linejoin="round" stroke-linecap="round"/><path d="M138.90 100.20C139.30 100.50 140.50 101.40 141.30 101.99C142.11 102.57 142.93 103.15 143.75 103.71C144.58 104.27 145.42 104.82 146.26 105.35C147.11 105.88 147.97 106.40 148.83 106.90C149.69 107.41 150.56 107.91 151.44 108.40C152.31 108.88 153.19 109.36 154.08 109.83C154.96 110.30 155.85 110.76 156.74 111.21C157.64 111.67 158.53 112.11 159.43 112.55C160.33 113.00 161.23 113.43 162.14 113.86C163.04 114.29 163.95 114.71 164.86 115.13C165.77 115.55 166.69 115.96 167.60 116.36C168.52 116.77 169.44 117.17 170.36 117.56C171.28 117.95 172.21 118.34 173.13 118.72C174.06 119.10 174.99 119.48 175.92 119.86C176.84 120.23 177.77 120.61 178.70 120.98C179.63 121.35 180.57 121.73 181.50 122.10C182.43 122.47 183.36 122.84 184.29 123.21C185.22 123.59 186.15 123.96 187.08 124.33C188.01 124.70 188.94 125.08 189.87 125.45C190.80 125.82 191.73 126.19 192.66 126.56C193.59 126.94 194.52 127.31 195.45 127.68C196.38 128.05 197.31 128.42 198.24 128.79C199.18 129.16 200.11 129.53 201.04 129.90C201.97 130.26 202.91 130.63 203.84 130.98C204.78 131.34 205.72 131.70 206.66 132.04C207.60 132.39 208.54 132.73 209.48 133.07C210.42 133.41 211.37 133.74 212.31 134.08C213.26 134.41 214.21 134.74 215.15 135.07C216.10 135.40 217.04 135.73 217.99 136.05C218.94 136.38 219.88 136.71 220.83 137.04C221.78 137.37 222.72 137.70 223.67 138.03C224.62 138.36 225.56 138.69 226.51 139.02C227.46 139.35 228.40 139.68 229.35 140.01C230.29 140.34 231.24 140.67 232.19 141.00C233.13 141.34 234.08 141.67 235.02 142.01C235.96 142.34 236.91 142.68 237.84 143.03C238.78 143.37 239.72 143.73 240.65 144.09C241.59 144.45 242.52 144.83 243.44 145.21C244.36 145.60 245.28 146.00 246.19 146.42C247.10 146.83 248.00 147.26 248.90 147.71C249.79 148.15 250.68 148.61 251.57 149.08C252.45 149.54 253.33 150.03 254.21 150.50C255.09 150.98 255.96 151.47 256.84 151.94C257.73 152.41 258.61 152.87 259.50 153.32C260.40 153.77 261.30 154.20 262.21 154.62C263.11 155.04 264.03 155.44 264.94 155.84C265.86 156.25 266.78 156.64 267.69 157.05C268.61 157.45 269.52 157.86 270.42 158.29C271.32 158.72 272.22 159.17 273.10 159.63C273.99 160.09 274.86 160.57 275.73 161.06C276.60 161.56 277.46 162.07 278.32 162.59C279.17 163.11 280.02 163.64 280.85 164.19C281.69 164.73 282.52 165.29 283.34 165.86C284.16 166.43 284.97 167.02 285.78 167.61C286.58 168.20 287.38 168.81 288.18 169.40C288.98 170.00 289.78 170.60 290.59 171.19C291.40 171.79 292.21 172.37 293.02 172.96C293.82 173.55 294.64 174.13 295.44 174.73C296.24 175.32 297.04 175.92 297.82 176.54C298.61 177.16 299.38 177.79 300.13 178.45C300.89 179.10 301.62 179.77 302.35 180.45C303.08 181.14 303.80 181.84 304.50 182.54C305.21 183.25 305.90 183.97 306.58 184.70C307.27 185.44 307.94 186.18 308.59 186.93C309.25 187.69 309.89 188.45 310.51 189.23C311.14 190.01 311.75 190.80 312.34 191.60C312.94 192.40 313.51 193.22 314.08 194.04C314.65 194.85 315.21 195.68 315.76 196.50C316.32 197.33 316.87 198.15 317.41 198.98C317.95 199.80 318.49 200.63 319.01 201.46C319.52 202.30 320.02 203.14 320.50 204.00C320.97 204.86 321.48 205.89 321.85 206.62C322.22 207.35 322.56 208.10 322.70 208.40" fill="none" stroke="#e0267e" stroke-width="2.35" stroke-linejoin="round" stroke-linecap="round"/><circle cx="322.7" cy="208.4" r="1.25" fill="#e0267e"/><circle cx="323.7" cy="212.5" r="1.25" fill="#e0267e"/><circle cx="324.6" cy="216.6" r="1.25" fill="#e0267e"/><circle cx="325.8" cy="220.6" r="1.25" fill="#e0267e"/><circle cx="326.8" cy="224.7" r="1.25" fill="#e0267e"/><circle cx="327.4" cy="228.8" r="1.25" fill="#e0267e"/><circle cx="327.9" cy="233.0" r="1.25" fill="#e0267e"/><circle cx="328.3" cy="237.2" r="1.25" fill="#e0267e"/><circle cx="329.2" cy="241.3" r="1.25" fill="#e0267e"/><circle cx="330.0" cy="245.4" r="1.25" fill="#e0267e"/><circle cx="330.4" cy="249.6" r="1.25" fill="#e0267e"/><circle cx="332.6" cy="265.3" r="1.25" fill="#e0267e"/><circle cx="331.7" cy="274.2" r="1.25" fill="#e0267e"/><circle cx="331.3" cy="303.9" r="1.25" fill="#e0267e"/><circle cx="333.5" cy="248.9" r="1.25" fill="#e0267e"/><circle cx="333.9" cy="244.7" r="1.25" fill="#e0267e"/><circle cx="334.3" cy="240.5" r="1.25" fill="#e0267e"/><circle cx="334.8" cy="236.4" r="1.25" fill="#e0267e"/><circle cx="335.4" cy="232.2" r="1.25" fill="#e0267e"/><circle cx="336.3" cy="228.1" r="1.25" fill="#e0267e"/><circle cx="336.9" cy="224.0" r="1.25" fill="#e0267e"/><circle cx="337.7" cy="219.8" r="1.25" fill="#e0267e"/><circle cx="339.2" cy="215.9" r="1.25" fill="#e0267e"/><circle cx="340.5" cy="211.9" r="1.25" fill="#e0267e"/><circle cx="341.6" cy="207.9" r="1.25" fill="#e0267e"/><path d="M342.20 205.40C342.38 204.93 342.91 203.52 343.26 202.58C343.62 201.65 343.98 200.71 344.35 199.78C344.72 198.84 345.09 197.91 345.48 196.99C345.87 196.06 346.26 195.14 346.67 194.22C347.07 193.31 347.49 192.39 347.91 191.48C348.33 190.57 348.76 189.67 349.20 188.76C349.64 187.86 350.08 186.96 350.53 186.06C350.98 185.17 351.43 184.27 351.90 183.38C352.36 182.49 352.84 181.61 353.32 180.73C353.80 179.85 354.29 178.98 354.79 178.11C355.29 177.24 355.80 176.38 356.32 175.52C356.84 174.66 357.36 173.80 357.89 172.95C358.42 172.09 358.95 171.24 359.49 170.40C360.03 169.55 360.57 168.71 361.13 167.88C361.68 167.04 362.25 166.21 362.82 165.39C363.39 164.57 363.98 163.75 364.57 162.94C365.17 162.14 365.77 161.34 366.39 160.55C367.00 159.75 367.62 158.97 368.26 158.19C368.89 157.42 369.54 156.65 370.19 155.89C370.85 155.13 371.51 154.38 372.19 153.64C372.86 152.90 373.55 152.16 374.24 151.44C374.93 150.71 375.63 150.00 376.34 149.29C377.05 148.58 377.77 147.88 378.50 147.19C379.22 146.50 379.95 145.81 380.69 145.13C381.43 144.45 382.18 143.78 382.93 143.12C383.68 142.45 384.43 141.79 385.19 141.14C385.95 140.48 386.72 139.83 387.48 139.18C388.24 138.53 389.01 137.88 389.77 137.23C390.53 136.57 391.29 135.92 392.04 135.25C392.79 134.59 393.53 133.91 394.27 133.24C395.01 132.56 395.75 131.87 396.48 131.19C397.21 130.50 397.94 129.81 398.66 129.12C399.39 128.42 400.12 127.73 400.84 127.04C401.57 126.35 402.30 125.65 403.02 124.96C403.75 124.27 404.47 123.57 405.20 122.88C405.92 122.19 406.65 121.49 407.37 120.80C408.10 120.10 408.82 119.40 409.54 118.70C410.25 118.00 410.97 117.30 411.68 116.59C412.39 115.88 413.09 115.17 413.80 114.45C414.50 113.73 415.20 113.01 415.90 112.29C416.60 111.57 417.29 110.85 417.99 110.13C418.69 109.41 419.39 108.69 420.09 107.97C420.80 107.26 421.50 106.54 422.21 105.83C422.92 105.13 423.64 104.42 424.36 103.72C425.08 103.02 425.80 102.33 426.53 101.63C427.25 100.94 427.98 100.25 428.71 99.56C429.44 98.88 430.18 98.19 430.92 97.51C431.65 96.83 432.39 96.15 433.13 95.48C433.88 94.80 434.62 94.13 435.37 93.46C436.12 92.80 436.87 92.13 437.63 91.47C438.38 90.80 439.13 90.14 439.89 89.48C440.65 88.83 441.41 88.17 442.17 87.51C442.93 86.86 443.70 86.21 444.46 85.56C445.23 84.92 446.00 84.28 446.78 83.64C447.55 83.00 448.33 82.37 449.11 81.74C449.89 81.11 450.68 80.48 451.46 79.86C452.25 79.23 453.04 78.61 453.83 77.99C454.62 77.37 455.41 76.76 456.21 76.15C457.00 75.54 457.80 74.93 458.60 74.33C459.41 73.72 460.21 73.12 461.02 72.53C461.83 71.94 462.64 71.35 463.46 70.77C464.28 70.19 465.10 69.62 465.93 69.05C466.76 68.49 467.59 67.93 468.43 67.38C469.27 66.83 470.11 66.29 470.96 65.74C471.80 65.20 472.65 64.66 473.50 64.12C474.34 63.59 475.19 63.05 476.04 62.52C476.89 61.98 477.74 61.45 478.59 60.92C479.45 60.39 480.30 59.86 481.15 59.33C482.01 58.80 482.86 58.28 483.72 57.75C484.58 57.23 485.43 56.71 486.29 56.19C487.15 55.68 488.01 55.16 488.88 54.65C489.74 54.15 490.61 53.64 491.49 53.16C492.36 52.67 493.24 52.20 494.13 51.74C495.02 51.28 495.92 50.83 496.83 50.40C497.73 49.97 498.64 49.55 499.55 49.14C500.47 48.72 501.39 48.32 502.31 47.93C503.23 47.53 504.15 47.14 505.08 46.76C506.01 46.37 506.94 46.00 507.87 45.63C508.81 45.27 509.74 44.91 510.68 44.56C511.62 44.21 512.57 43.87 513.51 43.53C514.46 43.19 515.72 42.75 516.35 42.53C516.98 42.31 517.14 42.26 517.30 42.20" fill="none" stroke="#e0267e" stroke-width="2.35" stroke-linejoin="round" stroke-linecap="round"/><circle cx="246.3" cy="287.6" r="0.9" fill="#888"/><text transform="translate(61.055,58.4) scale(1.3,1)" font-family="Liberation Sans" font-size="8.3" font-weight="normal" text-anchor="end" fill="#303030" stroke="#303030" stroke-width="0.12" letter-spacing="0.35">0.01</text><text transform="translate(61.055,115.525) scale(1.3,1)" font-family="Liberation Sans" font-size="8.3" font-weight="normal" text-anchor="end" fill="#303030" stroke="#303030" stroke-width="0.12" letter-spacing="0.35">0.001</text><text transform="translate(61.055,172.65) scale(1.3,1)" font-family="Liberation Sans" font-size="8.3" font-weight="normal" text-anchor="end" fill="#303030" stroke="#303030" stroke-width="0.12" letter-spacing="0.35">0.0001</text><text transform="translate(61.055,229.775) scale(1.3,1)" font-family="Liberation Sans" font-size="8.3" font-weight="normal" text-anchor="end" fill="#303030" stroke="#303030" stroke-width="0.12" letter-spacing="0.35">1E-5</text><text transform="translate(61.055,286.9) scale(1.3,1)" font-family="Liberation Sans" font-size="8.3" font-weight="normal" text-anchor="end" fill="#303030" stroke="#303030" stroke-width="0.12" letter-spacing="0.35">1E-6</text><text transform="translate(134.9275,318.0) scale(1.3,1)" font-family="Liberation Sans" font-size="8.3" font-weight="normal" text-anchor="middle" fill="#303030" stroke="#303030" stroke-width="0.12" letter-spacing="0.35">-0.7</text><text transform="translate(210.3275,318.0) scale(1.3,1)" font-family="Liberation Sans" font-size="8.3" font-weight="normal" text-anchor="middle" fill="#303030" stroke="#303030" stroke-width="0.12" letter-spacing="0.35">-0.6</text><text transform="translate(285.72749999999996,318.0) scale(1.3,1)" font-family="Liberation Sans" font-size="8.3" font-weight="normal" text-anchor="middle" fill="#303030" stroke="#303030" stroke-width="0.12" letter-spacing="0.35">-0.5</text><text transform="translate(361.1275,318.0) scale(1.3,1)" font-family="Liberation Sans" font-size="8.3" font-weight="normal" text-anchor="middle" fill="#303030" stroke="#303030" stroke-width="0.12" letter-spacing="0.35">-0.4</text><text transform="translate(436.52750000000003,318.0) scale(1.3,1)" font-family="Liberation Sans" font-size="8.3" font-weight="normal" text-anchor="middle" fill="#303030" stroke="#303030" stroke-width="0.12" letter-spacing="0.35">-0.3</text><text transform="translate(511.9275,318.0) scale(1.3,1)" font-family="Liberation Sans" font-size="8.3" font-weight="normal" text-anchor="middle" fill="#303030" stroke="#303030" stroke-width="0.12" letter-spacing="0.35">-0.2</text><text transform="translate(311.4,330.7) scale(1.225,1)" font-family="Liberation Sans" font-size="11.6" font-weight="normal" text-anchor="middle" fill="#3a3a3a" stroke="#3a3a3a" stroke-width="0.1">Potential applied (V)</text><text transform="translate(12.7,155.8) rotate(-90) scale(0.865,1)" font-family="Liberation Sans" font-size="11.8" font-weight="normal" text-anchor="middle" fill="#404040" stroke="#404040" stroke-width="0.1">WE(1).Current (A)</text><text transform="translate(106.2,175.9) scale(1.31,1)" font-family="Liberation Serif" font-size="11.4" font-weight="bold" text-anchor="start" fill="#1c1c1c" stroke="#1c1c1c" stroke-width="0.15">Blank</text><text transform="translate(103.3,190.8) scale(1.22,1)" font-family="Liberation Serif" font-size="13.0" font-weight="bold" text-anchor="start" fill="#1c1c1c" stroke="#1c1c1c" stroke-width="0.05">30</text><text transform="translate(123.9,190.8) scale(1.18,1)" font-family="Liberation Serif" font-size="11.2" font-weight="bold" text-anchor="start" fill="#1c1c1c" stroke="#1c1c1c" stroke-width="0.15">ppm</text><text transform="translate(103.3,209.4) scale(1.22,1)" font-family="Liberation Serif" font-size="13.0" font-weight="bold" text-anchor="start" fill="#1c1c1c" stroke="#1c1c1c" stroke-width="0.05">50</text><text transform="translate(123.3,209.4) scale(1.18,1)" font-family="Liberation Serif" font-size="11.2" font-weight="bold" text-anchor="start" fill="#1c1c1c" stroke="#1c1c1c" stroke-width="0.15">ppm</text><text transform="translate(103.89999999999999,225.9) scale(1.22,1)" font-family="Liberation Serif" font-size="13.0" font-weight="bold" text-anchor="start" fill="#1c1c1c" stroke="#1c1c1c" stroke-width="0.05">100</text><text transform="translate(131.39999999999998,225.9) scale(1.18,1)" font-family="Liberation Serif" font-size="11.2" font-weight="bold" text-anchor="start" fill="#1c1c1c" stroke="#1c1c1c" stroke-width="0.15">ppm</text><text transform="translate(104.19999999999999,240.9) scale(1.22,1)" font-family="Liberation Serif" font-size="13.0" font-weight="bold" text-anchor="start" fill="#1c1c1c" stroke="#1c1c1c" stroke-width="0.05">150</text><text transform="translate(131.39999999999998,240.9) scale(1.18,1)" font-family="Liberation Serif" font-size="11.2" font-weight="bold" text-anchor="start" fill="#1c1c1c" stroke="#1c1c1c" stroke-width="0.15">ppm</text><text transform="translate(105.0,255.9) scale(1.22,1)" font-family="Liberation Serif" font-size="13.0" font-weight="bold" text-anchor="start" fill="#1c1c1c" stroke="#1c1c1c" stroke-width="0.05">200</text><text transform="translate(132.5,255.9) scale(1.18,1)" font-family="Liberation Serif" font-size="11.2" font-weight="bold" text-anchor="start" fill="#1c1c1c" stroke="#1c1c1c" stroke-width="0.15">ppm</text><text transform="translate(103.89999999999999,273.7) scale(1.22,1)" font-family="Liberation Serif" font-size="13.0" font-weight="bold" text-anchor="start" fill="#1c1c1c" stroke="#1c1c1c" stroke-width="0.05">300</text><text transform="translate(132.0,273.7) scale(1.18,1)" font-family="Liberation Serif" font-size="11.2" font-weight="bold" text-anchor="start" fill="#1c1c1c" stroke="#1c1c1c" stroke-width="0.15">ppm</text><circle cx="95.6" cy="173.3" r="1.1" fill="#222"/><circle cx="95.6" cy="187.7" r="1.1" fill="#3a3a46"/><circle cx="95.6" cy="201.6" r="1.1" fill="#b070c8"/><circle cx="95.6" cy="215.9" r="1.1" fill="#3a4a3a"/><circle cx="95.6" cy="231" r="1.1" fill="#c8b48a"/><circle cx="95.6" cy="245.3" r="1.1" fill="#a8c8a0"/><circle cx="95.6" cy="260" r="1.1" fill="#8a4a6a"/></g></svg></body></html>
